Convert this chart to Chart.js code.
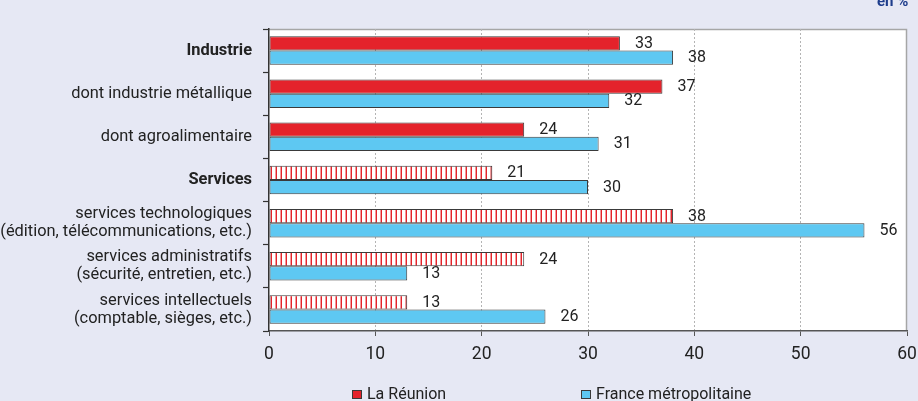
<!DOCTYPE html>
<html lang="fr">
<head>
<meta charset="utf-8">
<title>Part des entreprises – La Réunion / France métropolitaine</title>
<script src="https://cdn.jsdelivr.net/npm/chart.js@4.4.1/dist/chart.umd.min.js"></script>
<style>
  html, body { margin: 0; padding: 0; background: #e6e8f4; }
  #wrap { position: relative; width: 918px; height: 401px; overflow: hidden; }
  canvas { display: block; }
</style>
</head>
<body>
<div id="wrap"><canvas id="chart" width="918" height="401"></canvas></div>
<script>
// Sector rows (multi-line labels are arrays of lines)
const categories = [
  'Industrie',
  'dont industrie métallique',
  'dont agroalimentaire',
  'Services',
  ['services technologiques', '(édition, télécommunications, etc.)'],
  ['services administratifs', '(sécurité, entretien, etc.)'],
  ['services intellectuels', '(comptable, sièges, etc.)']
];
// Which broad sector each row belongs to
const sectorOfRow = ['industrie', 'industrie', 'industrie', 'services', 'services', 'services', 'services'];
// Rows that are sector totals (drawn in bold)
const totalRows = [0, 3];

const seriesNames = ['La Réunion', 'France métropolitaine'];
const reunionValues = [33, 37, 24, 21, 38, 24, 13];
const franceValues = [38, 32, 31, 30, 56, 13, 26];

const xTicks = [0, 10, 20, 30, 40, 50, 60];
const unitLabel = 'en %';

const FONT = "'Liberation Sans Narrow', 'Arial Narrow', Roboto, sans-serif";
const RED = '#e4232b';
const BLUE = '#5ec8f2';
const EDGE = '#3a3a3a';

// Vertical red hatching used for the services rows of La Réunion
function makeHatch() {
  const c = document.createElement('canvas');
  c.width = 5; c.height = 5;
  const g = c.getContext('2d');
  g.fillStyle = '#ffffff';
  g.fillRect(0, 0, 5, 5);
  g.fillStyle = '#f29a9c';
  g.fillRect(0, 0, 1, 5);
  g.fillStyle = '#e4232b';
  g.fillRect(1, 0, 1, 5);
  return g.createPattern(c, 'repeat');
}
const hatch = makeHatch();

// White plot area with a light frame on top and right
const plotBackground = {
  id: 'plotBackground',
  beforeDraw(chart) {
    const { ctx, chartArea: a } = chart;
    ctx.save();
    ctx.fillStyle = '#ffffff';
    ctx.fillRect(a.left, a.top, a.right - a.left, a.bottom - a.top);
    ctx.strokeStyle = '#a6a6a6';
    ctx.lineWidth = 1.5;
    ctx.beginPath();
    ctx.moveTo(a.left, a.top + 0.5);
    ctx.lineTo(a.right - 0.5, a.top + 0.5);
    ctx.lineTo(a.right - 0.5, a.bottom);
    ctx.stroke();
    ctx.restore();
  }
};

// Value printed just after the end of each bar
const valueLabels = {
  id: 'valueLabels',
  afterDatasetsDraw(chart) {
    const { ctx } = chart;
    ctx.save();
    ctx.font = '16px ' + FONT;
    ctx.fillStyle = '#222222';
    ctx.textAlign = 'left';
    ctx.textBaseline = 'middle';
    chart.data.datasets.forEach((ds, di) => {
      const meta = chart.getDatasetMeta(di);
      meta.data.forEach((bar, i) => {
        ctx.fillText(String(ds.data[i]), bar.x + 15, bar.y + 0.5);
      });
    });
    ctx.restore();
  }
};

// Legend row below the axis and unit note in the top-right corner
const legendRow = {
  id: 'legendRow',
  afterDraw(chart) {
    const { ctx } = chart;
    const starts = [352, 581];
    ctx.save();
    ctx.font = '16px ' + FONT;
    ctx.textBaseline = 'middle';
    ctx.textAlign = 'left';
    chart.data.datasets.forEach((ds, di) => {
      const x = starts[di];
      const y = 390;
      ctx.fillStyle = ds.legendColor;
      ctx.fillRect(x + 0.5, y + 0.5, 9, 8);
      ctx.strokeStyle = EDGE;
      ctx.lineWidth = 1;
      ctx.strokeRect(x + 0.5, y + 0.5, 9, 8);
      ctx.fillStyle = '#222222';
      ctx.fillText(ds.label, x + 15, y + 4.5);
    });
    ctx.font = 'bold 15px ' + FONT;
    ctx.fillStyle = '#1e3d8c';
    ctx.textBaseline = 'alphabetic';
    ctx.fillText(unitLabel, 877, 6);
    ctx.restore();
  }
};

new Chart(document.getElementById('chart'), {
  type: 'bar',
  data: {
    labels: categories,
    datasets: [
      {
        label: seriesNames[0],
        data: reunionValues,
        legendColor: RED,
        backgroundColor: ctx => sectorOfRow[ctx.dataIndex] === 'services' ? hatch : RED,
        borderColor: EDGE,
        borderWidth: 1,
        borderSkipped: false
      },
      {
        label: seriesNames[1],
        data: franceValues,
        legendColor: BLUE,
        backgroundColor: BLUE,
        borderColor: EDGE,
        borderWidth: 1,
        borderSkipped: false
      }
    ]
  },
  options: {
    indexAxis: 'y',
    responsive: false,
    animation: false,
    devicePixelRatio: 1,
    layout: { padding: { top: 14, right: 11, left: 0, bottom: 0 } },
    datasets: { bar: { categoryPercentage: 0.66, barPercentage: 1.0 } },
    plugins: {
      legend: { display: false },
      tooltip: { enabled: false }
    },
    scales: {
      x: {
        min: xTicks[0],
        max: xTicks[xTicks.length - 1],
        afterBuildTicks: scale => { scale.ticks = xTicks.map(v => ({ value: v })); },
        afterFit: scale => {
          scale.height = 70;
          scale.paddingLeft = 0;
          scale.paddingRight = 0;
        },
        grid: {
          color: ctx => (ctx.index === 0 || ctx.index === xTicks.length - 1) ? 'rgba(0,0,0,0)' : '#b4b4b4',
          lineWidth: 1,
          tickLength: 5,
          tickColor: '#555555',
          tickWidth: 1,
          tickBorderDash: []
        },
        border: { display: true, color: '#555555', width: 1.5, dash: [2, 2] },
        ticks: {
          color: '#222222',
          padding: 8,
          font: { family: FONT, size: 17.5 },
          maxRotation: 0
        }
      },
      y: {
        afterFit: scale => { scale.width = 269; },
        grid: {
          offset: true,
          drawOnChartArea: false,
          drawTicks: true,
          tickLength: 6,
          tickColor: '#333333',
          tickWidth: 1.2
        },
        border: { display: true, color: '#333333', width: 1.5 },
        ticks: {
          color: '#222222',
          padding: 11,
          autoSkip: false,
          font: ctx => ({
            family: FONT,
            size: 16.4,
            lineHeight: '18px',
            weight: totalRows.includes(ctx.index) ? 'bold' : 'normal'
          })
        }
      }
    }
  },
  plugins: [plotBackground, valueLabels, legendRow]
});
</script>
</body>
</html>
